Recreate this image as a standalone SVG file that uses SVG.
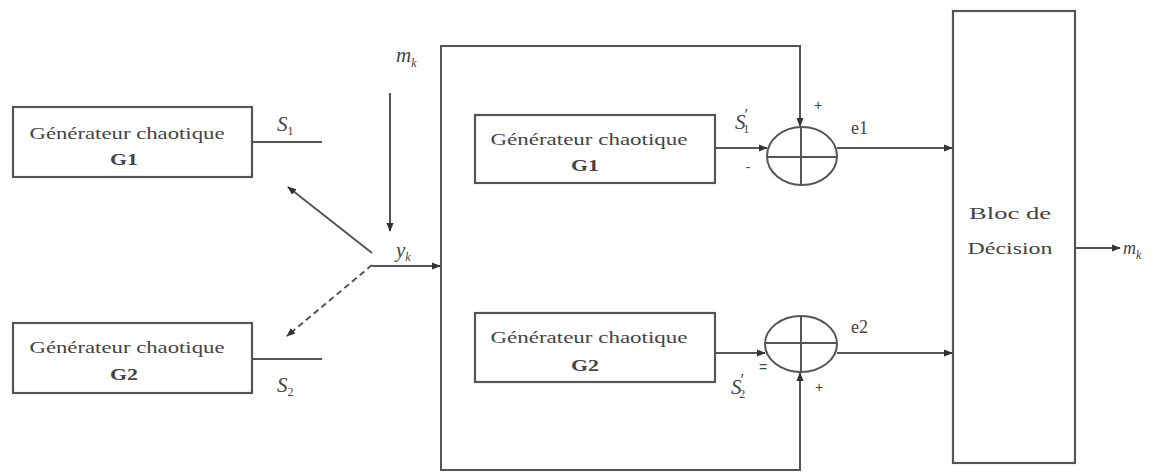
<svg xmlns="http://www.w3.org/2000/svg" width="1158" height="473" viewBox="0 0 1158 473">
<defs>
<style>
.ln{stroke:#555;stroke-width:2;fill:none}
.bx{stroke:#555;stroke-width:2.2;fill:#fff}
.t{font-family:"Liberation Serif","Times New Roman",serif;fill:#444;font-size:17px}
.it{font-style:italic}
.lab{font-size:21px}
.sub{font-size:12px;font-style:normal}
.sm{font-family:"Liberation Sans",Arial,sans-serif;fill:#444;font-size:14px}
</style>
<marker id="ah" viewBox="0 0 10 10" refX="9" refY="5" markerWidth="9" markerHeight="9" markerUnits="userSpaceOnUse" orient="auto">
<path d="M0,1 L10,5 L0,9 Z" fill="#333"/>
</marker>
</defs>
<rect width="1158" height="473" fill="#fff"/>

<g id="gen1">
<rect class="bx" x="13" y="107" width="239" height="70"/>
<text class="t" x="127" y="139" text-anchor="middle" textLength="195" lengthAdjust="spacingAndGlyphs">Générateur chaotique</text>
<text class="t" x="124" y="165" text-anchor="middle" font-weight="bold" textLength="28" lengthAdjust="spacingAndGlyphs">G1</text>
</g>
<g id="gen2">
<rect class="bx" x="13" y="323" width="239" height="70"/>
<text class="t" x="127" y="353" text-anchor="middle" textLength="195" lengthAdjust="spacingAndGlyphs">Générateur chaotique</text>
<text class="t" x="124" y="380" text-anchor="middle" font-weight="bold" textLength="28" lengthAdjust="spacingAndGlyphs">G2</text>
</g>
<g id="gen1r">
<rect class="bx" x="475" y="115" width="240" height="68"/>
<text class="t" x="589" y="145" text-anchor="middle" textLength="197" lengthAdjust="spacingAndGlyphs">Générateur chaotique</text>
<text class="t" x="585" y="171" text-anchor="middle" font-weight="bold" textLength="28" lengthAdjust="spacingAndGlyphs">G1</text>
</g>
<g id="gen2r">
<rect class="bx" x="475" y="313" width="240" height="69"/>
<text class="t" x="589" y="343" text-anchor="middle" textLength="197" lengthAdjust="spacingAndGlyphs">Générateur chaotique</text>
<text class="t" x="585" y="371" text-anchor="middle" font-weight="bold" textLength="28" lengthAdjust="spacingAndGlyphs">G2</text>
</g>
<g id="sum1">
<ellipse class="ln" cx="802" cy="156" rx="35" ry="29"/>
<line class="ln" x1="767" y1="157" x2="837" y2="157" stroke-width="1.5"/>
<line class="ln" x1="801" y1="127" x2="801" y2="185" stroke-width="1.5"/>
</g>
<g id="sum2">
<ellipse class="ln" cx="801" cy="344" rx="36" ry="28"/>
<line class="ln" x1="765" y1="343" x2="837" y2="343" stroke-width="1.5"/>
<line class="ln" x1="801" y1="316" x2="801" y2="372" stroke-width="1.5"/>
</g>
<g id="decision">
<rect class="bx" x="953" y="11" width="122" height="452"/>
<text class="t" x="1010" y="219" text-anchor="middle" textLength="82" lengthAdjust="spacingAndGlyphs">Bloc de</text>
<text class="t" x="1010" y="254" text-anchor="middle" textLength="85" lengthAdjust="spacingAndGlyphs">Décision</text>
</g>

<g id="connectors">
<line class="ln" x1="252" y1="142" x2="322" y2="142"/>
<line class="ln" x1="252" y1="359" x2="322" y2="359"/>
<line class="ln" x1="390" y1="93" x2="390" y2="231" marker-end="url(#ah)"/>
<line class="ln" x1="372" y1="253" x2="288" y2="187" marker-end="url(#ah)"/>
<line class="ln" x1="372" y1="265" x2="287" y2="336" stroke-dasharray="6,4" marker-end="url(#ah)"/>
<line class="ln" x1="372" y1="266" x2="440" y2="266" marker-end="url(#ah)"/>
<path class="ln" d="M441,266 V46 H800 V126" marker-end="url(#ah)"/>
<path class="ln" d="M441,266 V470 H800 V373" marker-end="url(#ah)"/>
<line class="ln" x1="715" y1="148" x2="767" y2="148" marker-end="url(#ah)"/>
<line class="ln" x1="715" y1="353" x2="765" y2="353" marker-end="url(#ah)"/>
<line class="ln" x1="837" y1="148" x2="952" y2="148" marker-end="url(#ah)"/>
<line class="ln" x1="837" y1="353" x2="952" y2="353" marker-end="url(#ah)"/>
<line class="ln" x1="1075" y1="248" x2="1120" y2="248" marker-end="url(#ah)"/>
</g>

<g id="labels">
<text class="t it lab" x="277" y="131">S<tspan class="sub" dy="4">1</tspan></text>
<text class="t it lab" x="277" y="392">S<tspan class="sub" dy="4">2</tspan></text>
<text class="t it lab" x="396" y="62">m<tspan class="sub" style="font-style:italic" dy="5">k</tspan></text>
<text class="t it lab" x="396" y="257">y<tspan class="sub" style="font-style:italic" dy="4">k</tspan></text>
<text class="t it lab" x="735" y="129">S<tspan class="sub" style="font-size:17px" dx="-1" dy="-9">′</tspan><tspan class="sub" dx="-5" dy="13">1</tspan></text>
<text class="t it lab" x="731" y="394">S<tspan class="sub" style="font-size:17px" dx="-1" dy="-9">′</tspan><tspan class="sub" dx="-5" dy="13">2</tspan></text>
<text class="t it" x="1123" y="254" style="font-size:18px">m<tspan class="sub" style="font-style:italic" dy="5">k</tspan></text>
<text class="t" x="851" y="134" style="font-size:18px">e1</text>
<text class="t" x="851" y="333" style="font-size:18px">e2</text>
<text class="sm" x="818" y="110" text-anchor="middle">+</text>
<text class="sm" x="819" y="392" text-anchor="middle">+</text>
<text class="sm" x="748" y="172" text-anchor="middle">-</text>
<text class="sm" x="763" y="372" text-anchor="middle">=</text>
</g>
</svg>
